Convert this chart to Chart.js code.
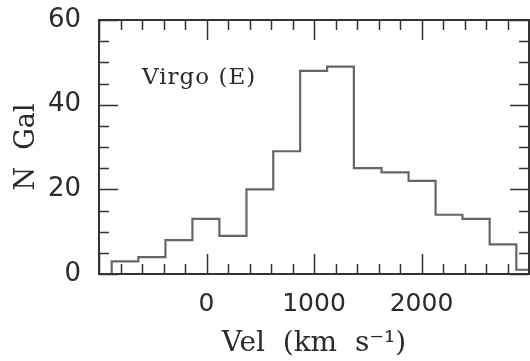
<!DOCTYPE html>
<html>
<head>
<meta charset="utf-8">
<script src="https://cdn.jsdelivr.net/npm/chart.js@4/dist/chart.umd.min.js"></script>
<style>
  html, body { margin: 0; padding: 0; background: #fff; }
  #chart { display: block; }
</style>
</head>
<body>
<canvas id="chart" width="530" height="361"></canvas>
<script>
// histogram bins (left edges + final right edge) and galaxy counts
const binEdges = [-882, -634, -382, -131, 120, 372, 621, 871, 1122, 1371, 1628, 1880, 2131, 2381, 2634, 2882, 3130];
const counts = [3, 4, 8, 13, 9, 20, 29, 48, 49, 25, 24, 22, 14, 13, 7, 1];

const xRange = [-1000, 3000];
const yRange = [0, 60];
const xMajor = 1000, xMinor = 200;
const yMajor = 20, yMinor = 5;
const xTickLabels = ['0', '1000', '2000'];
const panelLabel = 'Virgo (E)';

// build step points: start from baseline, then each bin's left edge
const stepPoints = [{ x: binEdges[0], y: 0 }];
counts.forEach((c, i) => stepPoints.push({ x: binEdges[i], y: c }));
stepPoints.push({ x: binEdges[binEdges.length - 1], y: counts[counts.length - 1] });

const axisColor = '#333';
const textColor = '#2a2a2a';

// frame + inward ticks on all four sides, plus panel label
const frameTicks = {
    id: 'frameTicks',
    afterDatasetsDraw(chart) {
        const { ctx, chartArea: a, scales: { x, y } } = chart;
        ctx.save();
        ctx.strokeStyle = axisColor;
        ctx.lineWidth = 2;
        ctx.strokeRect(a.left, a.top, a.right - a.left, a.bottom - a.top);

        ctx.lineWidth = 1.5;
        ctx.beginPath();
        for (let v = xRange[0]; v <= xRange[1]; v += xMinor) {
            const px = Math.round(x.getPixelForValue(v)) + 0.5;
            const len = (v % xMajor === 0) ? 20 : 10;
            ctx.moveTo(px, a.bottom); ctx.lineTo(px, a.bottom - len);
            ctx.moveTo(px, a.top); ctx.lineTo(px, a.top + len);
        }
        for (let v = yRange[0]; v <= yRange[1]; v += yMinor) {
            const py = Math.round(y.getPixelForValue(v)) + 0.5;
            const len = (v % yMajor === 0) ? 19 : 10;
            ctx.moveTo(a.left, py); ctx.lineTo(a.left + len, py);
            ctx.moveTo(a.right, py); ctx.lineTo(a.right - len, py);
        }
        ctx.stroke();

        // panel label
        ctx.fillStyle = textColor;
        ctx.font = '23px "DejaVu Serif"';
        ctx.letterSpacing = '1px';
        ctx.textAlign = 'left';
        ctx.textBaseline = 'middle';
        ctx.fillText(panelLabel, x.getPixelForValue(-600), y.getPixelForValue(46.3));
        ctx.restore();
    }
};

new Chart(document.getElementById('chart'), {
    type: 'line',
    data: {
        datasets: [{
            data: stepPoints,
            stepped: 'before',
            borderColor: '#666',
            borderWidth: 2.2,
            pointRadius: 0,
            fill: false
        }]
    },
    options: {
        responsive: false,
        animation: false,
        devicePixelRatio: 1,
        layout: { padding: { left: 0, right: 1, top: 20, bottom: 0 } },
        plugins: { legend: { display: false }, tooltip: { enabled: false } },
        scales: {
            x: {
                type: 'linear',
                min: xRange[0],
                max: xRange[1],
                afterFit(s) { s.height = 87; s.paddingLeft = 0; s.paddingRight = 0; },
                grid: { display: false, drawTicks: false },
                border: { display: false },
                ticks: {
                    stepSize: xMajor,
                    padding: 15,
                    color: textColor,
                    font: { family: 'DejaVu Sans', size: 25 },
                    maxRotation: 0,
                    callback: v => xTickLabels.includes(String(v)) ? String(v) : ''
                },
                title: {
                    display: true,
                    text: 'Vel  (km  s\u207B\u00B9)',
                    color: textColor,
                    font: { family: 'DejaVu Serif', size: 28 },
                    padding: { top: 0, bottom: 0 }
                }
            },
            y: {
                min: yRange[0],
                max: yRange[1],
                afterFit(s) { s.width = 99; s.paddingTop = 0; s.paddingBottom = 0; },
                grid: { display: false, drawTicks: false },
                border: { display: false },
                ticks: {
                    stepSize: yMajor,
                    padding: 18,
                    color: textColor,
                    font: { family: 'DejaVu Sans', size: 26 }
                },
                title: {
                    display: true,
                    text: 'N  Gal',
                    color: textColor,
                    font: { family: 'DejaVu Serif', size: 27 },
                    padding: { top: 11, bottom: 0 }
                }
            }
        }
    },
    plugins: [frameTicks]
});
</script>
</body>
</html>
